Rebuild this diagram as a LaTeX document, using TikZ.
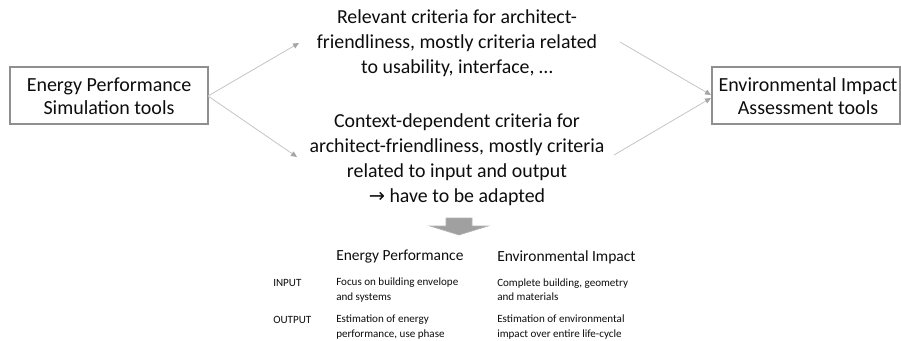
\documentclass[tikz,border=0pt]{standalone}
\usepackage{fontspec}
\setmainfont{Carlito}
\newfontfamily\symfont{DejaVu Sans}
\usetikzlibrary{arrows.meta}
\definecolor{boxgray}{HTML}{8F8F8F}
\definecolor{linegray}{HTML}{C4C4C4}
\definecolor{tipgray}{HTML}{A6A6A6}
\definecolor{arrowfill}{HTML}{A0A0A0}
\definecolor{txt}{HTML}{0D0D0D}
\tikzset{
  boxtext/.style={text=txt, align=center, inner sep=0pt, font=\fontsize{15}{17.6}\selectfont},
  midtext/.style={align=center, text=txt, inner sep=0pt, font=\fontsize{14.9}{18.75}\selectfont},
  conn/.style={draw=linegray, line width=0.6pt, -{Triangle[length=4.5pt,width=4pt,fill=tipgray,color=tipgray]}},
  head/.style={anchor=west, inner sep=0pt, text=txt, font=\fontsize{11.6}{13}\selectfont},
  cell/.style={anchor=west, inner sep=0pt, text=txt, align=left, font=\fontsize{8.3}{10.6}\selectfont},
}
\begin{document}
\begin{tikzpicture}[x=0.75pt, y=-0.75pt]
\useasboundingbox (0,0) rectangle (901,340);
% tool boxes
\draw[draw=boxgray, line width=0.9pt] (10,67) rectangle (208,124);
\node[boxtext] (ep) at (109,96) {Energy Performance\\Simulation tools};
\coordinate (epE) at (208,96);
\draw[draw=boxgray, line width=0.9pt] (712,67) rectangle (900,124);
\node[boxtext] (ei) at (808,96) {Environmental Impact\\Assessment tools};
\coordinate (eiW1) at (711,95);
\coordinate (eiW2) at (711,98);
% middle texts
\node[midtext] (rel) at (457,43) {Relevant criteria for architect-\\friendliness, mostly criteria related\\to usability, interface, \ldots};
\node[midtext] (ctx) at (457,160) {Context-dependent criteria for\\architect-friendliness, mostly criteria\\related to input and output\\{\symfont\fontsize{14.5}{18.75}\selectfont →} have to be adapted};
\coordinate (relL) at (299,43);
\coordinate (relR) at (620,42);
\coordinate (ctxL) at (297,157);
\coordinate (ctxR) at (614,155);
% connectors
\draw[conn] (epE) -- (relL);
\draw[conn] (epE) -- (ctxL);
\draw[conn] (relR) -- (eiW1);
\draw[conn] (ctxR) -- (eiW2);
% big down arrow
\filldraw[fill=arrowfill, draw=arrowfill!80!white, line width=0.5pt]
  (446,218) -- (472,218) -- (472,226) -- (488,226) -- (459,235) -- (430,226) -- (446,226) -- cycle;
% table
\node[head] (h1) at (336,257) {Energy Performance};
\node[head] (h2) at (497,257) {Environmental Impact};
\node[cell] (in) at (273,283) {INPUT};
\node[cell] (out) at (273,320) {OUTPUT};
\node[cell] (c11) at (336,290) {Focus on building envelope\\and systems};
\node[cell] (c12) at (497,290) {Complete building, geometry\\and materials};
\node[cell] (c21) at (336,327) {Estimation of energy\\performance, use phase};
\node[cell] (c22) at (497,327) {Estimation of environmental\\impact over entire life-cycle};
\end{tikzpicture}
\end{document}
